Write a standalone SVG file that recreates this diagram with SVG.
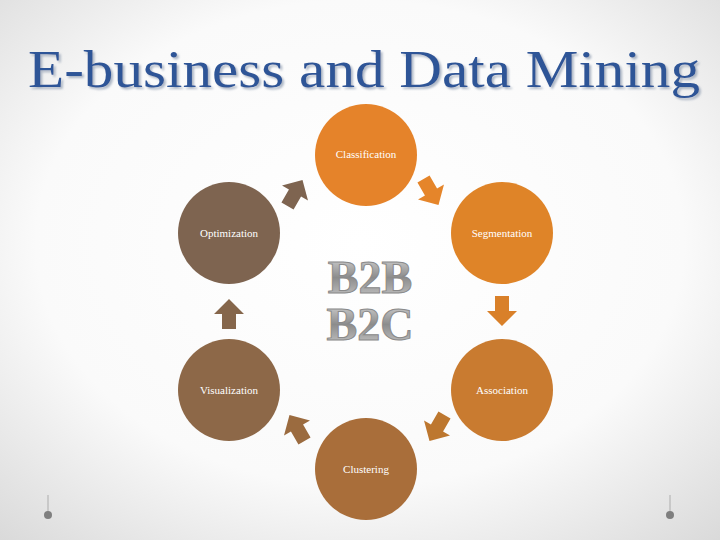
<svg xmlns="http://www.w3.org/2000/svg" width="720" height="540" viewBox="0 0 720 540">
<defs>
<radialGradient id="bg" cx="50%" cy="45%" r="75%"><stop offset="0" stop-color="#ffffff"/><stop offset="0.6" stop-color="#fafafa"/><stop offset="1" stop-color="#d9d9d9"/></radialGradient>
<linearGradient id="metal" x1="0" y1="0" x2="0" y2="1"><stop offset="0" stop-color="#e0e0e0"/><stop offset="0.5" stop-color="#8c8c8c"/><stop offset="1" stop-color="#d0d0d0"/></linearGradient>
<filter id="sh" x="-5%" y="-20%" width="110%" height="140%"><feDropShadow dx="2" dy="2" stdDeviation="1" flood-color="#9aa6b8" flood-opacity="0.8"/></filter>
<polygon id="arr" points="-7,-15 7,-15 7,0 15,0 0,15 -15,0 -7,0"/>
</defs>
<style>
.lbl{font-family:"Liberation Serif",serif;font-size:11px;text-anchor:middle;fill:#ffffff}
.big{font-family:"Liberation Serif",serif;font-size:46px;font-weight:bold;text-anchor:middle;fill:url(#metal);stroke:#8a8a8a;stroke-width:1}
</style>
<rect width="720" height="540" fill="url(#bg)"/>
<text x="364" y="87" font-family="Liberation Serif,serif" font-size="52" text-anchor="middle" textLength="672" lengthAdjust="spacingAndGlyphs" fill="#2e5597" filter="url(#sh)">E-business and Data Mining</text>
<g id="decor" stroke="#bfbfbf" stroke-width="1.5"><line x1="48" y1="495" x2="48" y2="515"/><line x1="670" y1="495" x2="670" y2="515"/><circle cx="48" cy="515" r="4" fill="#7f7f7f" stroke="none"/><circle cx="670" cy="515" r="4" fill="#7f7f7f" stroke="none"/></g>
<text class="big" x="370" y="293">B2B</text>
<text class="big" x="370" y="340">B2C</text>
<g id="classification"><circle cx="366" cy="155" r="51" fill="#e5832a"/><text class="lbl" x="366" y="158">Classification</text></g>
<g id="segmentation"><circle cx="502" cy="233" r="51" fill="#df8428"/><text class="lbl" x="502" y="237">Segmentation</text></g>
<g id="association"><circle cx="502" cy="390" r="51" fill="#c97b30"/><text class="lbl" x="502" y="394">Association</text></g>
<g id="clustering"><circle cx="366" cy="469" r="51" fill="#a96e3a"/><text class="lbl" x="366" y="473">Clustering</text></g>
<g id="visualization"><circle cx="229" cy="390" r="51" fill="#8d6848"/><text class="lbl" x="229" y="394">Visualization</text></g>
<g id="optimization"><circle cx="229" cy="233" r="51" fill="#7e6450"/><text class="lbl" x="229" y="237">Optimization</text></g>
<g id="connectors">
<use href="#arr" transform="translate(431,192) rotate(-30)" fill="#e5852a"/>
<use href="#arr" transform="translate(502,311)" fill="#d98029"/>
<use href="#arr" transform="translate(437,428) rotate(30)" fill="#bd772f"/>
<use href="#arr" transform="translate(297,428) rotate(150)" fill="#9b6b3f"/>
<use href="#arr" transform="translate(229,314) rotate(180)" fill="#85664b"/>
<use href="#arr" transform="translate(295,193) rotate(-150)" fill="#7e6450"/>
</g>
</svg>
